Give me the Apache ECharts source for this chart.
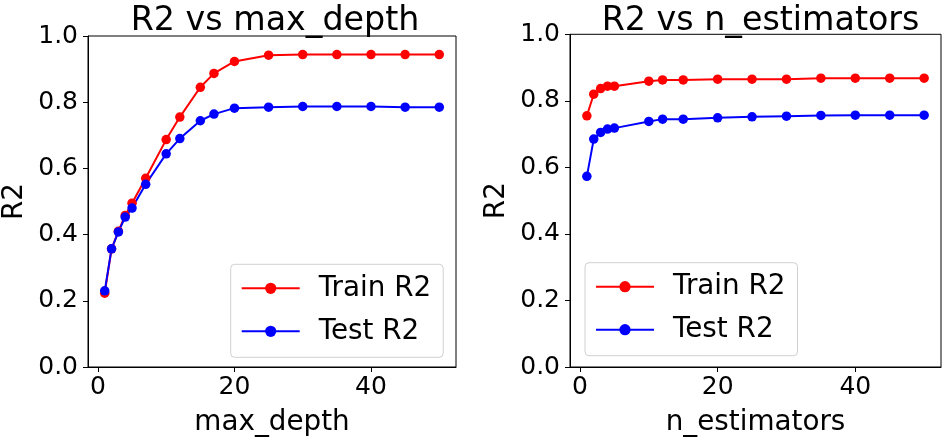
<!DOCTYPE html>
<html>
<head>
<meta charset="utf-8">
<script src="https://cdn.jsdelivr.net/npm/echarts@6/dist/echarts.min.js"></script>
<style>
html,body{margin:0;padding:0;background:#fff;}
#chart{width:944px;height:442px;}
</style>
</head>
<body>
<div id="chart"></div>
<script>
// Left panel: R2 vs max_depth
const depthX = [1, 2, 3, 4, 5, 7, 10, 12, 15, 17, 20, 25, 30, 35, 40, 45, 50];
const depthTrain = [0.223, 0.357, 0.410, 0.458, 0.495, 0.570, 0.687, 0.755, 0.845, 0.887, 0.923, 0.942, 0.944, 0.944, 0.944, 0.944, 0.944];
const depthTest = [0.230, 0.357, 0.408, 0.453, 0.480, 0.552, 0.644, 0.690, 0.744, 0.764, 0.782, 0.785, 0.787, 0.787, 0.787, 0.785, 0.785];

// Right panel: R2 vs n_estimators
const estX = [1, 2, 3, 4, 5, 10, 12, 15, 20, 25, 30, 35, 40, 45, 50];
const estTrain = [0.755, 0.820, 0.837, 0.844, 0.844, 0.859, 0.863, 0.863, 0.865, 0.865, 0.865, 0.868, 0.868, 0.868, 0.868];
const estTest = [0.573, 0.685, 0.705, 0.715, 0.718, 0.738, 0.745, 0.745, 0.749, 0.752, 0.754, 0.756, 0.757, 0.757, 0.757];

const xTicks = [0, 20, 40];
const titles = ['R2 vs max_depth', 'R2 vs n_estimators'];
const xNames = ['max_depth', 'n_estimators'];
const seriesNames = ['Train R2', 'Test R2'];

const FONT = 'DejaVu Sans';
const chart = echarts.init(document.getElementById('chart'), null, {renderer: 'canvas'});

function zip(xs, ys) { return xs.map((x, i) => [x, ys[i]]); }

const grids = [
  {left: 84, top: 36, width: 372, height: 334},
  {left: 570, top: 34.3, width: 371, height: 334}
];

function xAxisFor(i) {
  return {
    type: 'value', gridIndex: i, min: -1.45, max: 52.45,
    name: xNames[i], nameLocation: 'middle', nameGap: 42,
    nameTextStyle: {fontFamily: FONT, fontSize: 27.8, color: '#000'},
    axisLine: {show: true, onZero: false, lineStyle: {color: '#000', width: 1}},
    axisTick: {show: true, length: 5, inside: false, customValues: xTicks, lineStyle: {color: '#000'}},
    axisLabel: {show: true, customValues: xTicks, fontFamily: FONT, fontSize: 25, color: '#000', margin: 8},
    splitLine: {show: false}
  };
}
function yAxisFor(i) {
  return {
    type: 'value', gridIndex: i, min: 0, max: 1, interval: 0.2,
    name: 'R2', nameLocation: 'middle', nameGap: 59,
    nameTextStyle: {fontFamily: FONT, fontSize: 27.8, color: '#000'},
    axisLine: {show: true, onZero: false, lineStyle: {color: '#000', width: 1}},
    axisTick: {show: true, length: 5, lineStyle: {color: '#000'}},
    axisLabel: {fontFamily: FONT, fontSize: 25, color: '#000', margin: 10, formatter: v => v.toFixed(1)},
    splitLine: {show: false}
  };
}
function lineSeries(name, color, data, i) {
  return {
    name: name, type: 'line', xAxisIndex: i, yAxisIndex: i, data: data,
    symbol: 'circle', symbolSize: 9.5, showSymbol: true,
    lineStyle: {color: color, width: 2},
    itemStyle: {color: color},
    emphasis: {disabled: true},
    animation: false
  };
}
function legendFor(left, top) {
  return {
    data: seriesNames, orient: 'vertical', left: left, top: top, itemWidth: 58, itemHeight: 14, itemGap: 15,
    padding: [10, 12, 12, 10], borderColor: '#d0d0d0', borderWidth: 1, borderRadius: 4, backgroundColor: 'rgba(255,255,255,0.8)',
    textStyle: {fontFamily: FONT, fontSize: 27.8, color: '#000', padding: [0, 0, 0, 14]}, selectedMode: false
  };
}

const option = {
  animation: false,
  backgroundColor: '#fff',
  title: [
    {text: titles[0], left: 270, top: 0, textAlign: 'center', textStyle: {fontFamily: FONT, fontSize: 33.3, fontWeight: 'normal', color: '#000'}},
    {text: titles[1], left: 755.5, top: 0, textAlign: 'center', textStyle: {fontFamily: FONT, fontSize: 33.3, fontWeight: 'normal', color: '#000'}}
  ],
  grid: grids.map(g => Object.assign({show: true, borderColor: '#000', borderWidth: 1, backgroundColor: 'transparent'}, g)),
  xAxis: [xAxisFor(0), xAxisFor(1)],
  yAxis: [yAxisFor(0), yAxisFor(1)],
  legend: [legendFor(230.7, 264.3), legendFor(585, 262.7)],
  series: [
    lineSeries(seriesNames[0], '#ff0000', zip(depthX, depthTrain), 0),
    lineSeries(seriesNames[1], '#0000ff', zip(depthX, depthTest), 0),
    lineSeries(seriesNames[0], '#ff0000', zip(estX, estTrain), 1),
    lineSeries(seriesNames[1], '#0000ff', zip(estX, estTest), 1)
  ]
};
chart.setOption(option);
</script>
</body>
</html>
